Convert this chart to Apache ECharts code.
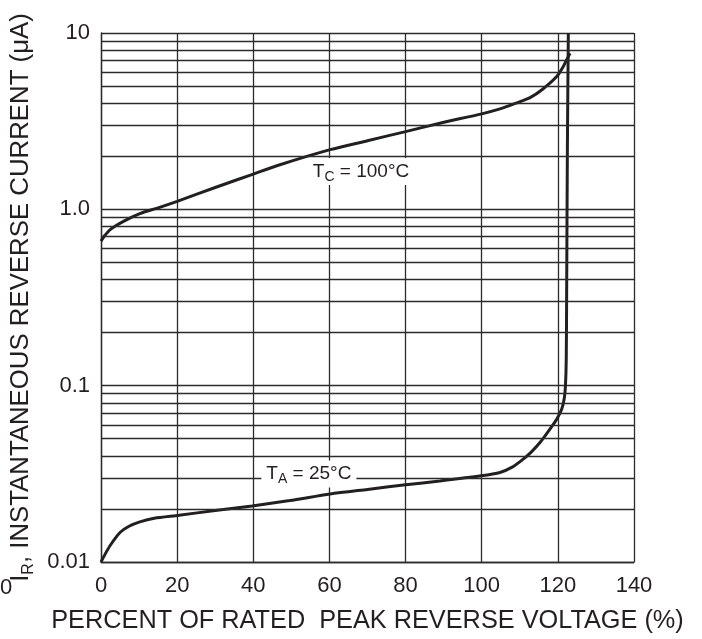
<!DOCTYPE html>
<html>
<head>
<meta charset="utf-8">
<script src="https://cdn.jsdelivr.net/npm/echarts@6/dist/echarts.min.js"></script>
<style>
  html, body { margin: 0; padding: 0; background: #fff; }
  #chart { width: 702px; height: 639px; }
</style>
</head>
<body>
<div id="chart"></div>
<script>
// percent of rated peak reverse voltage vs reverse current (uA)
var tc100Points = [
  [0, 0.66], [1, 0.71], [2.5, 0.77], [5.9, 0.855], [10.2, 0.946], [15, 1.02],
  [20, 1.11], [30, 1.33], [40, 1.585], [47, 1.79], [60.2, 2.18], [70, 2.45],
  [80, 2.76], [89, 3.08], [100, 3.48], [104.8, 3.71], [109, 4.0], [112.7, 4.3],
  [116, 4.8], [119.7, 5.66], [121.5, 6.5], [122.3, 7.04], [123.2, 7.67]
];
var ta25Points = [
  [0, 0.01], [0.8, 0.0108], [2.4, 0.0124], [5, 0.0147], [7.5, 0.016], [10.2, 0.0169],
  [14, 0.0177], [20.5, 0.0184], [30, 0.0196], [39.7, 0.0208], [49.6, 0.0223],
  [60.2, 0.0243], [70, 0.0258], [80, 0.0274], [89, 0.0288], [99.8, 0.0308],
  [104.8, 0.0322], [108, 0.0345], [110.9, 0.0383], [113, 0.042], [115.3, 0.0476],
  [117.9, 0.0567], [119.7, 0.0645], [121, 0.0734], [121.7, 0.085], [122, 0.1],
  [122.2, 0.14], [122.3, 0.3], [122.5, 2.18], [122.75, 10]
];
var xTicks = [0, 20, 40, 60, 80, 100, 120, 140];
var yTickLabels = { "10": "10", "1": "1.0", "0.1": "0.1", "0.01": "0.01" };
var minorGridValues = [
  2, 3, 4, 5, 6, 7, 8, 9,
  0.2, 0.3, 0.4, 0.5, 0.6, 0.7, 0.8, 0.9,
  0.02, 0.03, 0.04, 0.05, 0.06, 0.07, 0.08, 0.09
];
// curve labels: [x %, current]
var tcLabelAt = [68.3, 1.64];
var taLabelAt = [54.6, 0.0316];

var ink = "#231f20";
var gridInk = "#2b2b2b";
var font = "'Liberation Sans', Arial, sans-serif";

var labelRich = {
  t: { fontSize: 19, lineHeight: 25, color: ink, fontFamily: font },
  s: { fontSize: 14, lineHeight: 14, color: ink, fontFamily: font, verticalAlign: "bottom" }
};

var myChart = echarts.init(document.getElementById("chart"));

var option = {
  animation: false,
  backgroundColor: "#fff",
  textStyle: { fontFamily: font },
  grid: { left: 101, right: 68, top: 33, bottom: 76 },
  xAxis: {
    type: "value",
    min: xTicks[0],
    max: xTicks[xTicks.length - 1],
    interval: 20,
    name: "PERCENT OF RATED  PEAK REVERSE VOLTAGE (%)",
    nameLocation: "middle",
    nameGap: 47,
    nameTextStyle: { fontSize: 25.3, color: ink, fontFamily: font },
    axisLine: { lineStyle: { color: gridInk, width: 1.3 } },
    axisTick: { show: false },
    axisLabel: { fontSize: 22, color: ink, margin: 13, fontFamily: font },
    splitLine: { show: true, lineStyle: { color: gridInk, width: 1.3 } }
  },
  yAxis: {
    type: "log",
    logBase: 10,
    min: 0.01,
    max: 10,
    name: "{m|I}{s|R}{m|, INSTANTANEOUS REVERSE CURRENT (\u03bcA)}",
    nameLocation: "middle",
    nameRotate: 90,
    nameGap: 55,
    nameTextStyle: {
      rich: {
        m: { fontSize: 25.8, lineHeight: 30, color: ink, fontFamily: font },
        s: { fontSize: 16, lineHeight: 16, color: ink, fontFamily: font, verticalAlign: "bottom" }
      }
    },
    axisLine: { show: true, lineStyle: { color: gridInk, width: 1.3 } },
    axisTick: { show: false },
    axisLabel: {
      fontSize: 22,
      color: ink,
      margin: 11,
      padding: [5, 0, 0, 0],
      fontFamily: font,
      formatter: function (v) {
        var k = String(+v.toPrecision(3));
        return yTickLabels[k] !== undefined ? yTickLabels[k] : "";
      }
    },
    splitLine: { show: true, lineStyle: { color: gridInk, width: 1.3 } }
  },
  graphic: [
    {
      type: "text",
      left: 0,
      top: 577,
      style: { text: "0", font: "22px " + font, fill: ink }
    }
  ],
  series: [
    {
      name: "grid",
      type: "line",
      data: [],
      z: 1,
      silent: true,
      markLine: {
        silent: true,
        symbol: "none",
        label: { show: false },
        lineStyle: { color: gridInk, width: 1.3, type: "solid" },
        data: minorGridValues.map(function (v) { return { yAxis: v }; })
      }
    },
    {
      name: "TC = 100C",
      type: "line",
      data: tc100Points,
      showSymbol: false,
      smooth: 0.25,
      z: 3,
      lineStyle: { color: ink, width: 3 },
      markPoint: {
        symbol: "rect",
        symbolSize: 0,
        silent: true,
        label: {
          show: true,
          position: "inside",
          backgroundColor: "#fff",
          padding: [1, 5],
          formatter: "{t|T}{s|C}{t| = 100\u00b0C}",
          rich: labelRich
        },
        data: [{ coord: tcLabelAt }]
      }
    },
    {
      name: "TA = 25C",
      type: "line",
      data: ta25Points,
      showSymbol: false,
      smooth: 0.25,
      z: 3,
      lineStyle: { color: ink, width: 3 },
      markPoint: {
        symbol: "rect",
        symbolSize: 0,
        silent: true,
        label: {
          show: true,
          position: "inside",
          backgroundColor: "#fff",
          padding: [1, 5],
          formatter: "{t|T}{s|A}{t| = 25\u00b0C}",
          rich: labelRich
        },
        data: [{ coord: taLabelAt }]
      }
    }
  ]
};

myChart.setOption(option);
</script>
</body>
</html>
